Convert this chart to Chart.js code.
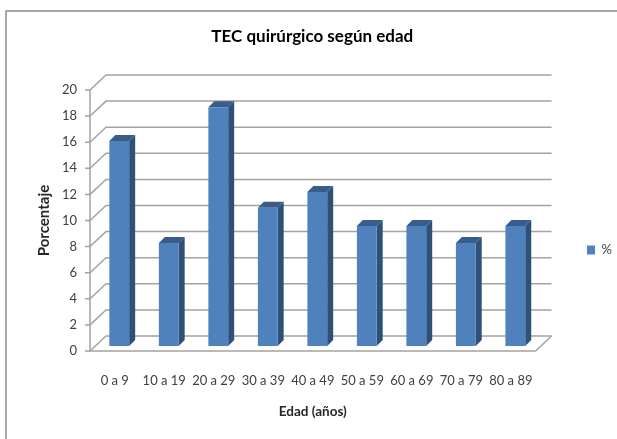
<!DOCTYPE html>
<html><head><meta charset="utf-8">
<style>html,body{margin:0;padding:0;background:#fff}canvas{display:block}</style>
<script src="https://cdn.jsdelivr.net/npm/chart.js@4"></script></head>
<body><canvas id="c" width="617" height="439"></canvas>
<script>
const categories = ["0 a 9","10 a 19","20 a 29","30 a 39","40 a 49","50 a 59","60 a 69","70 a 79","80 a 89"];
const percentValues = [15.7, 7.9, 18.3, 10.6, 11.8, 9.2, 9.2, 7.9, 9.2];
const seriesName = "%";
const chartTitle = "TEC quirúrgico según edad";
const xTitle = "Edad (años)";
const yTitle = "Porcentaje";
const FONT = "Lato";
const TEXT = "#404040";
const GRID = "#a3a3a3";
const DX = 16, DY = 15;          // depth of the 3D box
const BX = 4.5, BY = -5;         // bars stand mid-way in the box
const EX = 6, EY = 6;            // bar extrusion

const box3d = {
  id: "box3d",
  afterLayout(chart) {
    const t = chart.titleBlock; t.left += 9;
    const l = chart.legend; const w = l.right - l.left, h = l.bottom - l.top;
    l.left = 577; l.right = 577 + w; l.top = 233.5; l.bottom = 233.5 + h;
  },
  beforeDraw(chart) {
    const c = chart.ctx;
    c.save();
    c.strokeStyle = "#8a8a8a"; c.lineWidth = 1.5;
    c.beginPath(); c.moveTo(617, 11); c.lineTo(6, 11); c.lineTo(6, 439); c.stroke();
    c.restore();
  },
  beforeDatasetsDraw(chart) {
    const c = chart.ctx, {left, right} = chart.chartArea, y = chart.scales.y;
    c.save();
    c.strokeStyle = GRID; c.lineWidth = 1.5;
    y.ticks.forEach(t => {
      const p = y.getPixelForValue(t.value);
      c.beginPath();
      c.moveTo(left - 5, p); c.lineTo(left, p);
      c.lineTo(left + DX, p - DY); c.lineTo(right + DX, p - DY);
      c.stroke();
    });
    const p0 = y.getPixelForValue(0), pT = y.getPixelForValue(y.max);
    c.beginPath();
    c.moveTo(left, pT); c.lineTo(left, p0); c.lineTo(right, p0); c.lineTo(right + DX, p0 - DY);
    c.stroke();
    c.restore();

    c.save();
    c.translate(BX, BY);
    chart.getDatasetMeta(0).data.forEach(b => {
      const L = b.x - b.width / 2, R = b.x + b.width / 2, T = b.y, B = b.base;
      c.fillStyle = "#2f5179";
      c.beginPath(); c.moveTo(R, T); c.lineTo(R + EX, T - EY); c.lineTo(R + EX, B - EY); c.lineTo(R, B); c.closePath(); c.fill();
      c.fillStyle = "#385d8a";
      c.beginPath(); c.moveTo(L, T); c.lineTo(L + EX, T - EY); c.lineTo(R + EX, T - EY); c.lineTo(R, T); c.closePath(); c.fill();
    });
  },
  afterDatasetsDraw(chart) { chart.ctx.restore(); }
};

new Chart(document.getElementById("c"), {
  type: "bar",
  data: { labels: categories, datasets: [{
    label: seriesName, data: percentValues, backgroundColor: "#4f81bd", borderWidth: 0,
    barPercentage: 0.4, categoryPercentage: 1, clip: false
  }]},
  plugins: [box3d],
  options: {
    responsive: false, animation: false, events: [],
    layout: { padding: { top: 20, left: 35, right: 36.5, bottom: 19 } },
    plugins: {
      tooltip: { enabled: false },
      title: { display: true, text: chartTitle, color: "#000", font: { family: FONT, size: 17, weight: "bold" },
               padding: { top: 6, bottom: 43.6 } },
      legend: { position: "right", align: "start",
        labels: { boxWidth: 8, boxHeight: 9, padding: 10, color: TEXT, font: { family: FONT, size: 13 } } }
    },
    scales: {
      x: {
        offset: true, grid: { display: false, drawTicks: false }, border: { display: false },
        afterFit: s => { s.height = 69; },
        ticks: { color: TEXT, padding: 22, maxRotation: 0, autoSkip: false, font: { family: FONT, size: 13 } },
        title: { display: true, text: xTitle, color: "#262626", font: { family: FONT, size: 13.5, weight: "bold" }, padding: 0 }
      },
      y: {
        min: 0, max: 20, grid: { display: false, drawTicks: false }, border: { display: false },
        afterFit: s => { s.width = 55; },
        ticks: { stepSize: 2, color: TEXT, padding: 13, font: { family: FONT, size: 13 } },
        title: { display: true, text: yTitle, color: "#262626", font: { family: FONT, size: 15, weight: "bold" }, padding: 0 }
      }
    }
  }
});
</script></body></html>
